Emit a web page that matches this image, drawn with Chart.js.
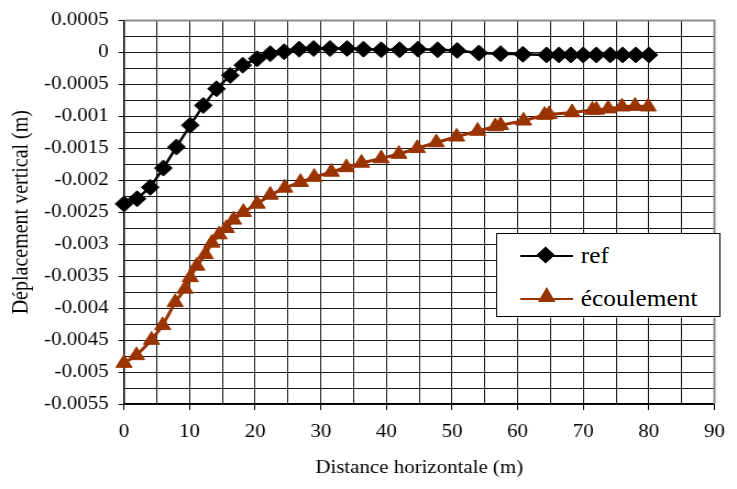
<!DOCTYPE html>
<html>
<head>
  <meta charset="UTF-8">
  <title>Déplacement vertical</title>
  <script src="https://cdn.jsdelivr.net/npm/chart.js"></script>
  <style>
    body { margin: 0; background: #fff; overflow: hidden; }
    /* the reference is slightly stretched sideways, so the whole chart is too */
    #wrap {
      position: absolute; left: 0; top: 0;
      width: 670px; height: 489px;
      transform: scaleX(1.1); transform-origin: 0 0;
      font-family: "Liberation Serif", "Times New Roman", serif;
    }
    #legend {
      position: absolute; left: 451px; top: 233px;
      width: 204px; height: 84px;
      border: 1px solid #000; background: #fff;
      box-sizing: border-box;
      font-size: 23px; color: #000;
    }
    .row { position: absolute; left: 0; height: 30px; display: flex; align-items: center; }
    .sample { position: relative; width: 48px; height: 30px; margin-left: 21px; margin-right: 7px; }
    .sample .ln { position: absolute; left: 0; right: 0; top: 14px; height: 2px; }
  </style>
</head>
<body>
  <div id="wrap">
    <canvas id="chart" width="670" height="489"></canvas>
    <div id="legend"></div>
  </div>

  <script>
    const seriesNames = ["ref", "écoulement"];
    const seriesColors = ["#000000", "#993300"];

    const refX = [0, 2, 4, 6, 8, 10.1, 12.1, 14.1, 16.2, 18.1, 20.3, 22.3, 24.4, 26.7, 28.9, 31.4, 34, 36.5,
      39.2, 42, 44.8, 47.8, 50.8, 54.1, 57.4, 60.8, 64.4, 66.3, 68.1, 70, 72, 74.1, 76, 78, 80];
    const refY = [-0.00237, -0.00229, -0.00211, -0.00181, -0.00148, -0.00114, -0.00083, -0.00057, -0.00036,
      -0.0002, -0.0001, -0.00002, 0.00001, 0.00005, 0.00006, 0.00006, 0.00006, 0.00005, 0.00004, 0.00004,
      0.00005, 0.00004, 0.00003, -0.00001, -0.00002, -0.00003, -0.00004, -0.00004, -0.00004, -0.00004,
      -0.00004, -0.00004, -0.00004, -0.00004, -0.00004];

    const ecoX = [0, 1.9, 4.2, 5.9, 7.8, 9.3, 10.1, 11.1, 12.4, 13.4, 14.5, 15.6, 16.7, 18.2, 20.3, 22.3, 24.5,
      26.9, 29, 31.6, 33.9, 36.2, 39.2, 41.9, 44.7, 47.6, 50.7, 53.9, 56.6, 57.4, 60.9, 64.1, 64.8, 68.3,
      71.4, 72, 73.8, 75.9, 77.9, 79.9];
    const ecoY = [-0.00486, -0.00474, -0.0045, -0.00427, -0.00391, -0.0037, -0.00352, -0.00334, -0.00316,
      -0.00298, -0.00285, -0.00275, -0.00262, -0.0025, -0.00237, -0.00223, -0.00212, -0.00203, -0.00195,
      -0.00187, -0.0018, -0.00173, -0.00166, -0.00159, -0.0015, -0.00141, -0.00132, -0.00123, -0.00116,
      -0.00114, -0.00107, -0.00098, -0.00097, -0.00094, -0.0009, -0.0009, -0.00088, -0.00085, -0.00084,
      -0.00085];

    const xTickLabels = ["0", "10", "20", "30", "40", "50", "60", "70", "80", "90"];
    const yTickLabels = ["0.0005", "0", "-0.0005", "-0.001", "-0.0015", "-0.002", "-0.0025", "-0.003",
      "-0.0035", "-0.004", "-0.0045", "-0.005", "-0.0055"];

    const FONT = "'Liberation Serif', 'Times New Roman', serif";

    const toPoints = (xs, ys) => xs.map((x, i) => ({ x: x, y: ys[i] }));

    // gray frame on top/right, black axis lines on left/bottom
    const framePlugin = {
      id: "frame",
      afterDraw(chart) {
        const { ctx, chartArea: a } = chart;
        ctx.save();
        ctx.strokeStyle = "#8c8c8c";
        ctx.lineWidth = 2;
        ctx.beginPath();
        ctx.moveTo(a.left, a.top);
        ctx.lineTo(a.right, a.top);
        ctx.lineTo(a.right, a.bottom);
        ctx.stroke();
        ctx.restore();
      }
    };

    const chart = new Chart(document.getElementById("chart"), {
      type: "scatter",
      data: {
        datasets: [
          {
            label: seriesNames[0],
            data: toPoints(refX, refY),
            showLine: true,
            borderColor: seriesColors[0],
            backgroundColor: seriesColors[0],
            borderWidth: 2.5,
            pointStyle: "rectRot",
            pointRadius: 8,
            pointBorderWidth: 1,
            tension: 0,
            clip: false
          },
          {
            label: seriesNames[1],
            data: toPoints(ecoX, ecoY),
            showLine: true,
            borderColor: seriesColors[1],
            backgroundColor: seriesColors[1],
            borderWidth: 3,
            pointStyle: "triangle",
            pointRadius: 8.5,
            pointBorderWidth: 1,
            tension: 0,
            clip: false
          }
        ]
      },
      options: {
        responsive: false,
        animation: false,
        layout: { padding: { left: 0, right: 13, top: 17, bottom: 0 } },
        plugins: {
          legend: { display: false },
          tooltip: { enabled: false }
        },
        scales: {
          x: {
            type: "linear",
            min: 0,
            max: 90,
            afterFit: s => { s.height = 85; },
            border: { color: "#000", width: 1.5 },
            grid: {
              color: "#1a1a1a",
              lineWidth: 1,
              tickLength: 6,
              tickColor: c => (c.tick && c.tick.label !== "") ? "#000" : "rgba(0,0,0,0)"
            },
            ticks: {
              stepSize: 5,
              maxRotation: 0,
              autoSkip: false,
              padding: 11,
              color: "#000",
              font: { family: FONT, size: 19 },
              callback: v => {
                const s = String(Math.round(v));
                return xTickLabels.includes(s) && Math.abs(v - Math.round(v)) < 1e-9 ? s : "";
              }
            },
            title: {
              display: true,
              text: "Distance horizontale (m)",
              color: "#000",
              font: { family: FONT, size: 19 },
              padding: { top: 0, bottom: 10 }
            }
          },
          y: {
            type: "linear",
            min: -0.0055,
            max: 0.0005,
            afterFit: s => { s.width = 112.7; },
            border: { color: "#000", width: 1.5 },
            grid: {
              color: "#1a1a1a",
              lineWidth: 1,
              tickLength: 5,
              tickColor: c => (c.tick && c.tick.label !== "") ? "#000" : "rgba(0,0,0,0)"
            },
            ticks: {
              stepSize: 0.00025,
              autoSkip: false,
              padding: 9,
              color: "#000",
              font: { family: FONT, size: 19 },
              callback: v => {
                const s = String(parseFloat(v.toFixed(5)) + 0);
                return yTickLabels.includes(s) ? s : "";
              }
            },
            title: {
              display: true,
              text: "Déplacement vertical (m)",
              color: "#000",
              font: { family: FONT, size: 20 },
              padding: { top: 8, bottom: 0 }
            }
          }
        }
      },
      plugins: [framePlugin]
    });

    // legend box drawn as html, inside the plot like in the reference
    const legend = document.getElementById("legend");
    chart.data.datasets.forEach((ds, i) => {
      const row = document.createElement("div");
      row.className = "row";
      row.style.top = (i === 0 ? 7 : 50) + "px";
      let marker;
      if (ds.pointStyle === "rectRot") {
        marker = `<div style="position:absolute;left:17px;top:8px;width:12px;height:12px;background:${ds.backgroundColor};transform:rotate(45deg);"></div>`;
      } else {
        marker = `<div style="position:absolute;left:16px;top:3px;width:0;height:0;border-left:8px solid transparent;border-right:8px solid transparent;border-bottom:15px solid ${ds.backgroundColor};"></div>`;
      }
      row.innerHTML = `<div class="sample"><div class="ln" style="background:${ds.borderColor}"></div>${marker}</div><span>${ds.label}</span>`;
      legend.appendChild(row);
    });
  </script>
</body>
</html>
